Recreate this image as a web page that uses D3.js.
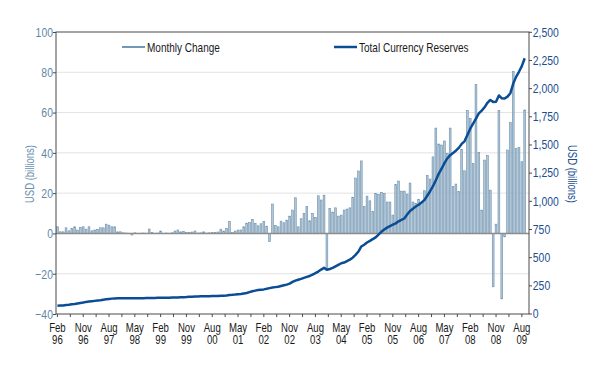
<!DOCTYPE html>
<html>
<head>
<meta charset="utf-8">
<script src="https://cdn.jsdelivr.net/npm/d3@7"></script>
<style>
  body { margin: 0; background: #fff; }
  text { font-family: "Liberation Sans", Arial, sans-serif; }
</style>
</head>
<body>
<div id="chart"></div>
<script>
// monthly change in reserves, USD bn, Feb 96 .. Sep 09
const monthlyChange = [
  3.3, 0.8, 0.8, 2.8, 1.3, 2.5, 3.3, 1.7, 3.0, 3.3,
  2.1, 3.3, 1.3, 1.7, 2.0, 2.8, 2.8, 4.6, 4.1, 3.3,
  3.3, 0.8, 0.8, 0.3, 0.2, 0.1, -0.8, 0.3, 0.1, 0.1,
  0.2, 0.1, 2.2, 0.5, 0.1, 0.2, 1.2, 0.1, 0.2, 0.1,
  0.3, 1.2, 1.7, 0.8, 1.0, 0.5, 0.5, 0.7, 1.2, 0.2,
  0.3, 0.8, 0.2, 0.3, 0.5, 0.5, 0.7, 2.1, 1.2, 2.5,
  6.0, 0.5, 1.2, 1.7, 1.7, 3.3, 5.1, 5.5, 7.0, 5.0,
  3.8, 4.8, 6.0, 3.6, -4.1, 14.6, 4.0, 3.3, 6.1, 5.3,
  6.6, 8.6, 11.6, 17.7, 3.3, 7.3, 10.0, 13.4, 6.3, 10.0,
  8.0, 18.7, 16.6, 19.0, -18.2, 12.4, 10.6, 12.7, 8.6, 9.1,
  11.6, 12.1, 12.7, 18.0, 27.5, 31.0, 36.0, 13.4, 18.5, 16.2,
  11.0, 19.9, 19.4, 20.4, 19.9, 15.6, 15.6, 9.1, 24.3, 26.0,
  21.0, 21.0, 19.5, 25.0, 15.6, 15.0, 16.9, 15.4, 21.2, 28.8,
  27.0, 38.0, 52.3, 44.4, 43.9, 45.9, 39.7, 52.3, 23.2, 24.5,
  20.9, 41.7, 31.1, 61.0, 57.0, 34.8, 74.0, 40.2, 11.6, 36.4,
  38.6, 21.5, -26.5, 4.6, 61.0, -32.5, -1.7, 41.4, 55.0, 80.3,
  42.2, 42.7, 35.6, 61.3
];

// total currency reserves, USD bn
const totalReserves = [
  68, 70, 72, 75, 78, 82, 85, 89, 93, 97,
  103, 106, 109, 112, 115, 118, 122, 126, 129, 132,
  134, 135, 136, 136, 136, 136, 135, 136, 136, 136,
  136, 137, 138, 138, 138, 139, 140, 140, 140, 140,
  141, 142, 143, 144, 145, 146, 148, 149, 150, 151,
  152, 153, 154, 154, 155, 155, 156, 157, 158, 160,
  165, 166, 168, 171, 174, 178, 182, 190, 198, 203,
  208, 211, 214, 219, 225, 230, 234, 238, 244, 250,
  256, 265, 280, 292, 300, 307, 316, 325, 333, 345,
  358, 372, 390, 405, 388, 395, 405, 418, 432, 446,
  452, 465, 478, 495, 520, 550, 595, 610, 630, 645,
  660, 675, 700, 725, 745, 762, 775, 788, 800, 818,
  830, 843, 878, 910, 930, 950, 965, 985, 1006, 1045,
  1085, 1130, 1183, 1240, 1285, 1335, 1376, 1405, 1425, 1445,
  1470, 1505, 1528, 1585, 1640, 1685, 1730, 1776, 1800, 1830,
  1870, 1895, 1878, 1880, 1935, 1910, 1908, 1925, 1955, 2040,
  2100, 2145, 2195, 2265
];

const months = d3.timeMonth.range(new Date(1996, 1, 1), new Date(2009, 9, 1));

const leftTicks = [-40, -20, 0, 20, 40, 60, 80, 100];
const rightTicks = [0, 250, 500, 750, 1000, 1250, 1500, 1750, 2000, 2250, 2500];
const xLabelMonths = ["Feb", "Nov", "Aug", "May", "Feb", "Nov", "Aug", "May", "Feb", "Nov",
                      "Aug", "May", "Feb", "Nov", "Aug", "May", "Feb", "Nov", "Aug"];
const xLabelYears = ["96", "96", "97", "98", "99", "99", "00", "01", "02", "02",
                     "03", "04", "05", "05", "06", "07", "08", "08", "09"];

const width = 600, height = 372;
const plotL = 56, plotR = 529, plotT = 32, plotB = 314;
const squeeze = "scale(0.77,1)";   // no condensed font here, so narrow the glyphs

const svg = d3.select("#chart").append("svg")
    .attr("width", width)
    .attr("height", height);

const x = d3.scaleLinear().domain([-0.5, months.length + 0.5]).range([plotL, plotR]);
const y = d3.scaleLinear().domain([-40, 100]).range([plotB, plotT]);
const y2 = d3.scaleLinear().domain([0, 2500]).range([313.5, 31.8]);

// gridlines
svg.append("g")
  .selectAll("line")
  .data(leftTicks.filter(d => d !== 0 && d !== -40 && d !== 100))
  .enter().append("line")
    .attr("x1", plotL).attr("x2", plotR)
    .attr("y1", d => y(d)).attr("y2", d => y(d))
    .attr("stroke", "#e3e3e3")
    .attr("stroke-width", 1);

// bars
svg.append("g")
  .selectAll("rect")
  .data(monthlyChange)
  .enter().append("rect")
    .attr("x", (d, i) => x(i) - 0.9)
    .attr("width", 1.8)
    .attr("y", d => y(Math.max(0, d)))
    .attr("height", d => Math.abs(y(d) - y(0)))
    .attr("fill", "#b3c6d6")
    .attr("stroke", "#6a90ae")
    .attr("stroke-width", 0.6);

// zero line
svg.append("line")
    .attr("x1", plotL).attr("x2", plotR)
    .attr("y1", y(0)).attr("y2", y(0))
    .attr("stroke", "#8c8c8c")
    .attr("stroke-width", 1.5);

// reserves line
const line = d3.line()
    .x((d, i) => x(i))
    .y(d => y2(d));

svg.append("path")
    .datum(totalReserves)
    .attr("d", line)
    .attr("fill", "none")
    .attr("stroke", "#0b4d94")
    .attr("stroke-width", 2.5)
    .attr("stroke-linejoin", "round");

// frame
svg.append("rect")
    .attr("x", plotL).attr("y", plotT)
    .attr("width", plotR - plotL).attr("height", plotB - plotT)
    .attr("fill", "none")
    .attr("stroke", "#4a4a4a")
    .attr("stroke-width", 1);

// left axis
const yAxis = svg.append("g")
    .attr("transform", `translate(${plotL},0)`)
    .call(d3.axisLeft(y).tickValues(leftTicks).tickSize(3).tickPadding(1).tickSizeOuter(0));
yAxis.select(".domain").remove();
yAxis.selectAll("line").attr("stroke", "#4a4a4a");
yAxis.selectAll("text")
    .attr("fill", "#5d87a8")
    .attr("font-family", "Liberation Sans, Arial, sans-serif")
    .style("font-size", "13.5px")
    .attr("transform", squeeze);

// right axis
const y2Axis = svg.append("g")
    .attr("transform", `translate(${plotR},0)`)
    .call(d3.axisRight(y2).tickValues(rightTicks).tickSize(3).tickPadding(2)
      .tickSizeOuter(0).tickFormat(d3.format(",")));
y2Axis.select(".domain").remove();
y2Axis.selectAll("line").attr("stroke", "#4a4a4a");
y2Axis.selectAll("text")
    .attr("fill", "#1a4e8e")
    .attr("font-family", "Liberation Sans, Arial, sans-serif")
    .style("font-size", "13.5px")
    .attr("transform", squeeze);

// bottom ticks every 4.5 months, labels every 9
const tickPos = d3.range(0, 162.1, 4.5);
svg.append("g")
  .selectAll("line")
  .data(tickPos)
  .enter().append("line")
    .attr("x1", d => x(d)).attr("x2", d => x(d))
    .attr("y1", plotB).attr("y2", plotB + 3)
    .attr("stroke", "#4a4a4a");

const xl = svg.append("g")
  .selectAll("g")
  .data(xLabelMonths)
  .enter().append("g")
    .attr("transform", (d, i) => `translate(${x(i * 9)},0) scale(0.8,1)`);
xl.append("text")
    .attr("text-anchor", "middle")
    .attr("y", 332)
    .attr("fill", "#1a1a1a")
    .style("font-size", "12px")
    .text(d => d);
xl.append("text")
    .attr("text-anchor", "middle")
    .attr("y", 344.5)
    .attr("fill", "#1a1a1a")
    .style("font-size", "12px")
    .text((d, i) => xLabelYears[i]);

// axis titles
svg.append("text")
    .attr("transform", `translate(34,174) rotate(-90) scale(0.76,1)`)
    .attr("text-anchor", "middle")
    .attr("fill", "#6a8fae")
    .style("font-size", "12.5px")
    .text("USD (billions)");

svg.append("text")
    .attr("transform", `translate(568,174) rotate(90) scale(0.76,1)`)
    .attr("text-anchor", "middle")
    .attr("fill", "#1a4e8e")
    .style("font-size", "12.5px")
    .text("USD (billions)");

// legend
const legend = [
  { name: "Monthly Change", color: "#7398b5", w: 2, x1: 122, x2: 145 },
  { name: "Total Currency Reserves", color: "#0b4d94", w: 2.5, x1: 334, x2: 357 }
];
const lg = svg.append("g");
legend.forEach(d => {
  lg.append("line")
      .attr("x1", d.x1).attr("x2", d.x2)
      .attr("y1", 47).attr("y2", 47)
      .attr("stroke", d.color)
      .attr("stroke-width", d.w);
  lg.append("text")
      .attr("transform", `translate(${d.x2 + 2},51.5) ${squeeze}`)
      .attr("fill", "#1a1a1a")
      .style("font-size", "13px")
      .text(d.name);
});
</script>
</body>
</html>
